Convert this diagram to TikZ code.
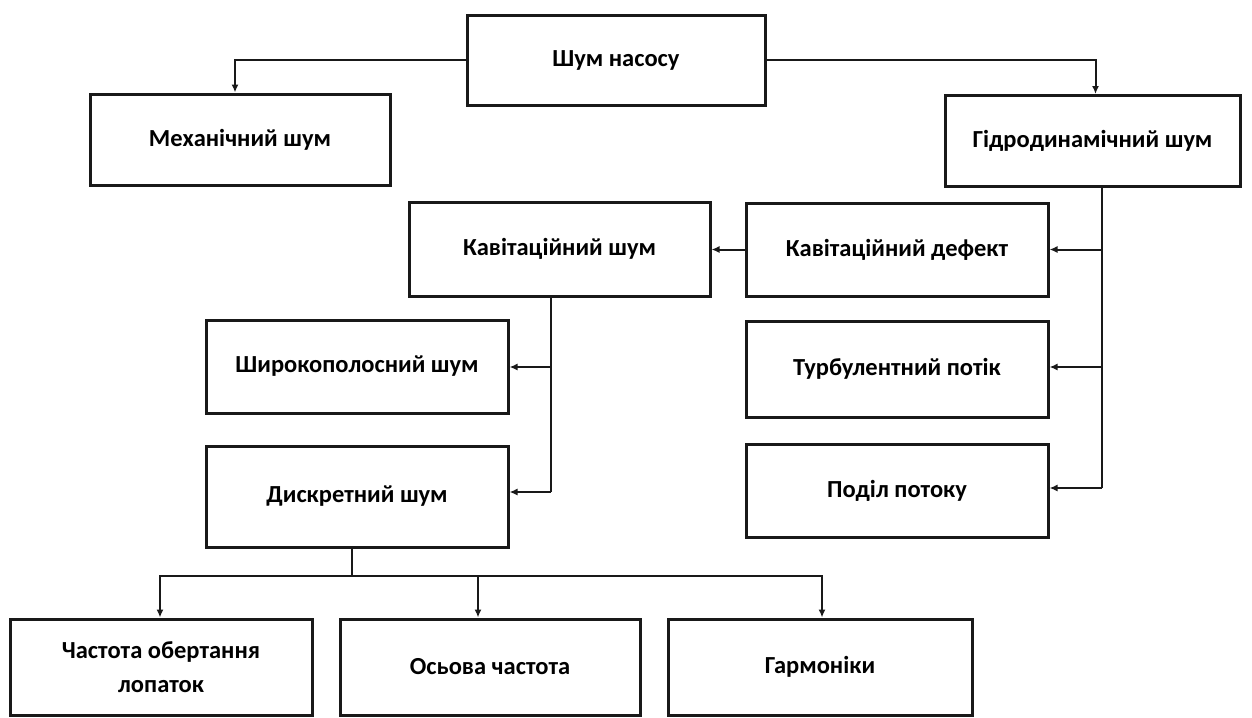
\documentclass[tikz,border=0pt]{standalone}
\usepackage{fontspec}
\setmainfont{Carlito}
\usetikzlibrary{arrows.meta,calc}
\begin{document}
\begin{tikzpicture}[x=1pt,y=1pt,
  box/.style={draw=black!90,line width=3pt,fill=white,minimum width=300pt,minimum height=92pt,font=\fontsize{24.5}{34}\selectfont\bfseries,align=center,inner sep=0pt},
  conn/.style={line width=2pt,draw=black!90},
  arr/.style={conn,-{Latex[length=8pt,width=7pt]}}]
\useasboundingbox[fill=white] (0,0) rectangle (1252,-717);
\node[box,minimum width=298pt,minimum height=89pt] (top) at (616,-60.5) {Шум насосу};
\node[box,minimum height=91pt] (mech) at (240,-139.5) {Механічний шум};
\node[box,minimum width=295pt,minimum height=91pt] (hydro) at (1092.5,-141) {Гідродинамічний шум};
\node[box,minimum width=301pt,minimum height=94pt] (cavn) at (559.5,-249) {Кавітаційний шум};
\node[box,minimum width=302pt,minimum height=93pt] (cavd) at (897,-249.5) {Кавітаційний дефект};
\node[box,minimum width=302pt,minimum height=93pt] (broad) at (357,-366.5) {Широкополосний шум};
\node[box,minimum width=302pt,minimum height=96pt] (turb) at (897,-369) {Турбулентний потік};
\node[box,minimum width=302pt,minimum height=101pt] (disc) at (357,-496.5) {Дискретний шум};
\node[box,minimum width=302pt,minimum height=93pt] (sep) at (897,-490.5) {Поділ потоку};
\node[box,minimum width=302pt,minimum height=96pt] (f1) at (161,-667) {Частота обертання\\лопаток};
\node[box,minimum width=300pt,minimum height=96pt] (f2) at (490,-667) {Осьова частота};
\node[box,minimum width=304pt,minimum height=96pt] (f3) at (820,-667) {Гармоніки};
% top level
\draw[arr] (top.west) -| ([xshift=-5pt]mech.north);
\draw[arr] (top.east) -| ([xshift=3pt]hydro.north);
% hydrodynamic branches
\coordinate (hb) at ([xshift=9.5pt]hydro.south);
\draw[conn] (hb) -- (hb |- 0,-488);
\draw[arr] (hb |- cavd.east) -- (cavd.east);
\draw[arr] (hb |- 0,-367) -- (turb.east |- 0,-367);
\draw[arr] (hb |- 0,-488) -- (sep.east |- 0,-488);
% cavitation defect -> cavitation noise
\draw[arr] (cavd.west) -- (cavd.west -| cavn.east);
% cavitation noise branches
\coordinate (cb) at ([xshift=-8.5pt]cavn.south);
\draw[conn] (cb) -- (cb |- 0,-492);
\draw[arr] (cb |- 0,-367) -- (broad.east |- 0,-367);
\draw[arr] (cb |- 0,-492) -- (disc.east |- 0,-492);
% discrete noise branches
\coordinate (db) at ([xshift=-5pt]disc.south);
\coordinate (dj) at (db |- 0,-576);
\draw[conn] (db) -- (dj);
\draw[arr] (dj) -| ([xshift=-1pt]f1.north);
\draw[arr] (dj) -| ([xshift=-12pt]f2.north);
\draw[arr] (dj) -| ([xshift=2pt]f3.north);
\end{tikzpicture}
\end{document}
